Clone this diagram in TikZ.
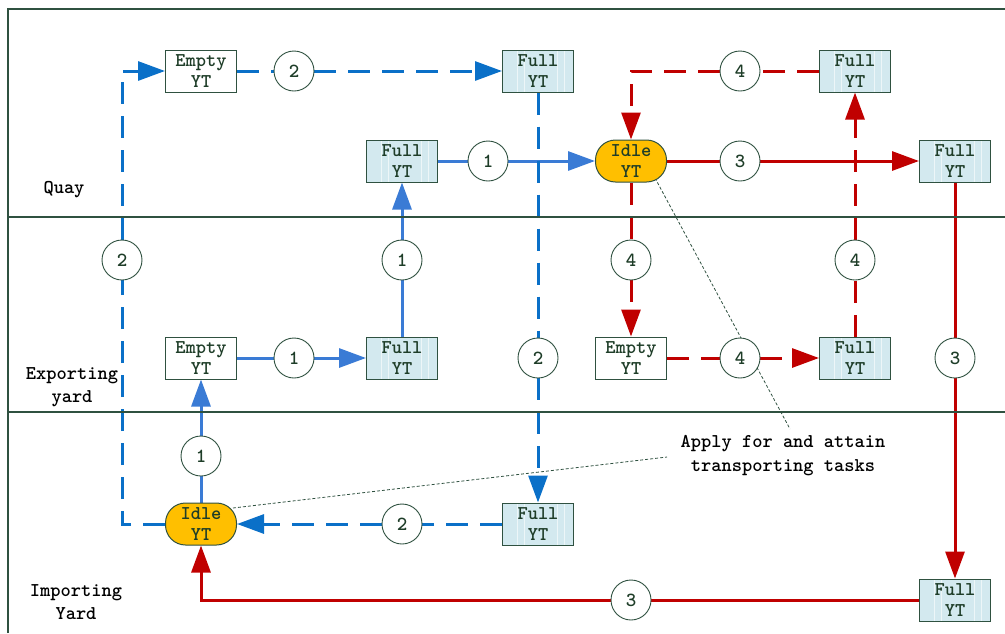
\documentclass[tikz,border=0pt]{standalone}
\usepackage{fontspec}
\usetikzlibrary{arrows.meta}
\pgfdeclarelayer{bg}
\pgfsetlayers{bg,main}
\definecolor{frm}{HTML}{2F5140}
\definecolor{txt}{HTML}{1E3D28}
\definecolor{blu}{HTML}{3A7BD5}
\definecolor{bld}{HTML}{0A70C8}
\definecolor{rd}{HTML}{C00000}
\definecolor{fullfill}{HTML}{D3E9EF}
\definecolor{idlefill}{HTML}{FFBF00}
\tikzset{
  box/.style={draw=frm, line width=1pt, minimum width=71pt, minimum height=42pt, inner sep=0pt, align=center,
    font=\ttfamily\bfseries\fontsize{19.5}{21}\selectfont, text=txt},
  emptybox/.style={box, fill=white},
  fullbox/.style={box, fill=fullfill, path picture={
    \foreach \s in {15,22,55,62}{
      \draw[white, opacity=0.6, line width=1.8pt] ([xshift=\s pt]path picture bounding box.south west) -- ([xshift=\s pt]path picture bounding box.north west);}
  }},
  idlebox/.style={box, fill=idlefill, rounded corners=20pt},
  num/.style={circle, draw=frm, line width=0.9pt, fill=white, minimum size=40pt, inner sep=0pt,
    font=\ttfamily\bfseries\fontsize{20}{20}\selectfont, text=txt},
  tip/.style={-{Triangle[length=27pt,width=19pt]}},
  pone/.style={tip, draw=blu, line width=3pt},
  ptwo/.style={tip, draw=bld, line width=3pt, dash pattern=on 22pt off 12pt},
  pthree/.style={tip, draw=rd, line width=3pt},
  pfour/.style={tip, draw=rd, line width=3pt, dash pattern=on 22pt off 12pt},
  frame/.style={draw=frm, line width=1.2pt},
  anno/.style={draw=frm, line width=0.8pt, dash pattern=on 3pt off 2pt},
  lbl/.style={align=center, font=\ttfamily\bfseries\fontsize{19.5}{23}\selectfont, text=black},
}
\begin{document}
\begin{tikzpicture}[x=1pt,y=-1pt]
\useasboundingbox (0,0) rectangle (1005,633);
% frame
\draw[frame] (8,633) -- (8,9) -- (1005,9);
\draw[frame] (8,217) -- (1005,217);
\draw[frame] (8,412) -- (1005,412);
% labels
\node[lbl] (quay) at (64,190) {Quay};
\node[lbl] (exp) at (72,387) {Exporting\\yard};
\node[lbl] (imp) at (76,602) {Importing\\Yard};
\node[lbl, inner sep=2pt, font=\ttfamily\bfseries\fontsize{19.5}{24}\selectfont] (annot) at (783,456) {Apply for and attain\\transporting tasks};
% YT nodes
\node[emptybox] (eQ) at (201,71) {Empty\\YT};
\node[fullbox] (fQm) at (538,71) {Full\\YT};
\node[fullbox] (fQl) at (402,161) {Full\\YT};
\node[idlebox] (iQ) at (631,161) {Idle\\YT};
\node[fullbox] (fQr) at (955,161) {Full\\YT};
\node[fullbox] (fQt) at (855,71) {Full\\YT};
\node[emptybox] (eE) at (201,358) {Empty\\YT};
\node[fullbox] (fE) at (402,358) {Full\\YT};
\node[emptybox] (eEr) at (631,358) {Empty\\YT};
\node[fullbox] (fEr) at (855,358) {Full\\YT};
\node[idlebox] (iI) at (201,524) {Idle\\YT};
\node[fullbox] (fI) at (538,524) {Full\\YT};
\node[fullbox] (fIr) at (955,600) {Full\\YT};
% number circles
\node[num] (c2a) at (122,260) {2};
\node[num] (c2b) at (294,71) {2};
\node[num] (c1d) at (488,161) {1};
\node[num] (c3a) at (740,161) {3};
\node[num] (c4d) at (740,71) {4};
\node[num] (c1c) at (402,260) {1};
\node[num] (c4a) at (631,260) {4};
\node[num] (c4c) at (855,260) {4};
\node[num] (c1b) at (294,358) {1};
\node[num] (c2c) at (538,358) {2};
\node[num] (c4b) at (740,358) {4};
\node[num] (c3b) at (955,358) {3};
\node[num] (c1a) at (201,456) {1};
\node[num] (c2d) at (402,524) {2};
\node[num] (c3c) at (631,600) {3};
\coordinate (s1) at (655,178);
\coordinate (s2) at (233,508);
\coordinate (e1) at (790,429);
\coordinate (e2) at (667,457);
\begin{pgfonlayer}{bg}
% annotation lines
\draw[anno] (s1) -- (e1);
\draw[anno] (s2) -- (e2);
% process 1
\draw[pone] (iI) -- (c1a) -- (eE);
\draw[pone] (eE) -- (c1b) -- (fE);
\draw[pone] (fE) -- (c1c) -- (fQl);
\draw[pone] (fQl) -- (c1d) -- (iQ);
% process 2
\draw[ptwo] (iI) -| (c2a) |- (eQ);
\draw[ptwo] (eQ) -- (c2b) -- (fQm);
\draw[ptwo] (fQm) -- (c2c) -- (fI);
\draw[ptwo] (fI) -- (c2d) -- (iI);
% process 3
\draw[pthree] (iQ) -- (c3a) -- (fQr);
\draw[pthree] (fQr) -- (c3b) -- (fIr);
\draw[pthree] (fIr) -- (c3c) -| (iI);
% process 4
\draw[pfour] (iQ) -- (c4a) -- (eEr);
\draw[pfour] (eEr) -- (c4b) -- (fEr);
\draw[pfour] (fEr) -- (c4c) -- (fQt);
\draw[pfour] (fQt) -- (c4d) -| (iQ);
\end{pgfonlayer}
\end{tikzpicture}
\end{document}
